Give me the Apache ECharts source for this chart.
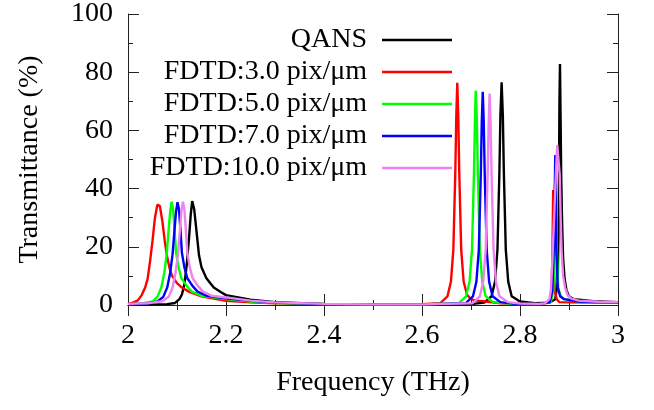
<!DOCTYPE html>
<html>
<head>
<meta charset="utf-8">
<script src="https://cdn.jsdelivr.net/npm/echarts@6/dist/echarts.min.js"></script>
<style>
  html, body { margin: 0; padding: 0; background: #fff; }
  #chart { width: 654px; height: 410px; }
</style>
</head>
<body>
<div id="chart"></div>
<script>
// Transmittance spectra: analytic QANS result vs FDTD at several resolutions
var seriesNames = ['QANS', 'FDTD:3.0 pix/μm', 'FDTD:5.0 pix/μm', 'FDTD:7.0 pix/μm', 'FDTD:10.0 pix/μm'];
var seriesColors = ['#000000', '#ff0000', '#00ff00', '#0000ff', '#ee82ee'];
var xTicks = [2, 2.2, 2.4, 2.6, 2.8, 3];
var yTicks = [0, 20, 40, 60, 80, 100];

// QANS
var qansFreq = [2.000, 2.080, 2.096, 2.105, 2.110, 2.115, 2.120, 2.125, 2.128, 2.131, 2.135, 2.140, 2.145, 2.150, 2.160, 2.175, 2.190, 2.200, 2.250, 2.300, 2.400, 2.500, 2.600, 2.700,
  2.727, 2.742, 2.749, 2.754, 2.758, 2.760, 2.7625, 2.765, 2.767, 2.771, 2.776, 2.783, 2.800, 2.830, 2.860,
  2.872, 2.877, 2.879, 2.8805, 2.8816, 2.883, 2.884, 2.886, 2.888, 2.891, 2.895, 2.900, 2.910, 2.950, 3.000];
var qansT = [0.1, 0.3, 0.7, 2.0, 3.6, 7.0, 14.0, 24.0, 31.0, 35.7, 33.0, 25.0, 17.0, 13.0, 9.2, 6.0, 4.4, 3.4, 1.8, 1.0, 0.4, 0.2, 0.1, 0.3,
  0.8, 3.0, 8.0, 19.0, 46.0, 65.0, 76.5, 65.0, 46.0, 19.0, 8.0, 3.0, 1.2, 0.6, 0.8,
  2.0, 8.0, 30.0, 70.0, 82.8, 62.0, 45.0, 28.0, 16.0, 9.0, 5.0, 3.0, 2.0, 1.3, 1.0];

// FDTD 3.0 pix/um
var fdtd3Freq = [2.000, 2.010, 2.020, 2.028, 2.035, 2.040, 2.045, 2.050, 2.055, 2.060, 2.062, 2.065, 2.070, 2.075, 2.080, 2.085, 2.090, 2.100, 2.110, 2.125, 2.150, 2.200, 2.250, 2.300, 2.400, 2.500, 2.600,
  2.637, 2.652, 2.659, 2.664, 2.668, 2.670, 2.672, 2.674, 2.676, 2.680, 2.685, 2.692, 2.700, 2.710, 2.730, 2.760, 2.800, 2.840,
  2.860, 2.864, 2.866, 2.8677, 2.869, 2.871, 2.875, 2.880, 2.900, 2.950, 3.000];
var fdtd3T = [0.3, 0.8, 1.6, 3.4, 6.0, 9.0, 15.0, 22.0, 30.0, 34.5, 35.0, 34.0, 29.0, 22.0, 16.5, 12.5, 10.0, 7.5, 6.0, 4.5, 3.0, 1.4, 0.9, 0.6, 0.3, 0.2, 0.3,
  0.6, 3.0, 8.0, 19.0, 46.0, 65.0, 76.4, 65.0, 46.0, 19.0, 8.0, 3.5, 2.0, 1.5, 1.2, 0.6, 0.3, 0.3,
  0.8, 4.0, 15.0, 39.5, 15.0, 5.0, 2.0, 1.0, 0.9, 0.8, 0.8];

// FDTD 5.0 pix/um
var fdtd5Freq = [2.000, 2.030, 2.050, 2.060, 2.068, 2.074, 2.079, 2.083, 2.086, 2.089, 2.092, 2.095, 2.098, 2.103, 2.109, 2.120, 2.130, 2.150, 2.200, 2.250, 2.300, 2.400, 2.500, 2.600,
  2.675, 2.690, 2.697, 2.702, 2.706, 2.708, 2.7096, 2.712, 2.714, 2.718, 2.723, 2.730, 2.745, 2.780, 2.840,
  2.863, 2.868, 2.871, 2.873, 2.875, 2.878, 2.883, 2.890, 2.920, 2.960, 3.000];
var fdtd5T = [0.2, 0.5, 1.2, 2.8, 6.0, 11.0, 17.5, 26.0, 32.0, 35.5, 33.0, 26.0, 18.0, 13.0, 9.2, 6.5, 4.6, 3.2, 2.0, 1.2, 0.7, 0.3, 0.2, 0.2,
  0.6, 3.0, 8.0, 19.0, 45.0, 63.0, 73.6, 63.0, 45.0, 19.0, 8.0, 3.0, 1.0, 0.4, 0.3,
  1.0, 5.0, 20.0, 47.0, 20.0, 6.0, 3.0, 2.0, 1.2, 1.0, 0.9];

// FDTD 7.0 pix/um
var fdtd7Freq = [2.000, 2.040, 2.060, 2.072, 2.080, 2.086, 2.091, 2.095, 2.098, 2.101, 2.104, 2.107, 2.110, 2.115, 2.121, 2.132, 2.142, 2.160, 2.200, 2.250, 2.300, 2.400, 2.500, 2.600,
  2.689, 2.704, 2.711, 2.716, 2.720, 2.722, 2.724, 2.726, 2.728, 2.732, 2.737, 2.744, 2.760, 2.790, 2.840,
  2.861, 2.866, 2.869, 2.872, 2.874, 2.877, 2.882, 2.890, 2.920, 2.960, 3.000];
var fdtd7T = [0.2, 0.5, 1.2, 2.8, 6.0, 11.0, 17.5, 26.0, 32.0, 35.3, 33.0, 26.0, 18.0, 13.0, 9.2, 6.5, 4.6, 3.2, 2.3, 1.4, 0.8, 0.3, 0.2, 0.2,
  0.6, 3.0, 8.0, 19.0, 45.0, 63.0, 73.3, 63.0, 45.0, 19.0, 8.0, 3.0, 1.0, 0.4, 0.3,
  1.0, 5.0, 20.0, 51.5, 20.0, 6.0, 3.0, 2.0, 1.2, 1.0, 0.9];

// FDTD 10.0 pix/um
var fdtd10Freq = [2.000, 2.040, 2.070, 2.083, 2.091, 2.097, 2.102, 2.106, 2.109, 2.112, 2.115, 2.118, 2.121, 2.126, 2.132, 2.143, 2.153, 2.170, 2.200, 2.250, 2.300, 2.400, 2.500, 2.600,
  2.703, 2.718, 2.725, 2.730, 2.734, 2.736, 2.738, 2.740, 2.742, 2.746, 2.751, 2.758, 2.775, 2.800, 2.840,
  2.850, 2.860, 2.863, 2.866, 2.870, 2.874, 2.876, 2.879, 2.881, 2.883, 2.885, 2.888, 2.892, 2.897, 2.905, 2.920, 2.960, 3.000];
var fdtd10T = [0.4, 0.6, 1.3, 2.8, 6.0, 11.0, 17.5, 26.0, 32.0, 35.5, 33.0, 26.0, 18.0, 13.0, 9.2, 6.5, 4.6, 3.2, 2.6, 1.5, 0.9, 0.4, 0.2, 0.2,
  0.6, 3.0, 8.0, 19.0, 45.0, 62.0, 72.7, 62.0, 45.0, 19.0, 8.0, 3.0, 1.0, 0.5, 0.4,
  0.5, 2.0, 5.0, 15.0, 32.0, 48.0, 55.0, 55.0, 45.0, 30.0, 18.0, 10.0, 6.0, 3.5, 2.2, 1.5, 1.1, 1.0];

var freqLists = [qansFreq, fdtd3Freq, fdtd5Freq, fdtd7Freq, fdtd10Freq];
var transLists = [qansT, fdtd3T, fdtd5T, fdtd7T, fdtd10T];

function pairUp(xs, ys) {
  var out = [];
  for (var i = 0; i < xs.length; i++) out.push([xs[i], ys[i]]);
  return out;
}

var FONT = '"Liberation Serif", "Times New Roman", serif';
var AXIS_COLOR = '#222';
var FS = 28;

var series = seriesNames.map(function (name, i) {
  return {
    name: name,
    type: 'line',
    xAxisIndex: 0,
    yAxisIndex: 0,
    data: pairUp(freqLists[i], transLists[i]),
    showSymbol: false,
    symbol: 'none',
    lineStyle: { color: seriesColors[i], width: 2.4 },
    itemStyle: { color: seriesColors[i] },
    emphasis: { disabled: true },
    z: 2 + i
  };
});

function tickAxisBase(extra) {
  var base = {
    axisLine: { show: true, lineStyle: { color: AXIS_COLOR, width: 1 } },
    axisTick: { show: true, inside: true, length: 11, lineStyle: { color: AXIS_COLOR } },
    minorTick: { show: true, splitNumber: 2, length: 5, lineStyle: { color: AXIS_COLOR } },
    splitLine: { show: false },
    minorSplitLine: { show: false }
  };
  for (var k in extra) base[k] = extra[k];
  return base;
}

var chart = echarts.init(document.getElementById('chart'), null, { renderer: 'canvas' });
chart.setOption({
  animation: false,
  backgroundColor: '#ffffff',
  textStyle: { fontFamily: FONT },
  grid: { left: 128, right: 36, top: 14, bottom: 105, containLabel: false },
  legend: {
    data: seriesNames,
    orient: 'vertical',
    align: 'right',
    right: 202,
    top: 26,
    padding: 0,
    itemGap: 4,
    itemWidth: 70,
    itemHeight: 2.5,
    icon: 'rect',
    selectedMode: false,
    textStyle: {
      fontFamily: FONT, fontSize: FS, color: '#000', lineHeight: 28,
      padding: [0, 10, 0, 0]
    }
  },
  xAxis: [
    tickAxisBase({
      type: 'value', position: 'bottom', min: xTicks[0], max: xTicks[xTicks.length - 1], interval: 0.2,
      name: 'Frequency (THz)', nameLocation: 'middle', nameGap: 64,
      nameTextStyle: { fontFamily: FONT, fontSize: FS, color: '#000' },
      axisLabel: { show: true, margin: 17, fontFamily: FONT, fontSize: FS, color: '#000' }
    }),
    tickAxisBase({
      type: 'value', position: 'top', min: xTicks[0], max: xTicks[xTicks.length - 1], interval: 0.2,
      axisLabel: { show: false }
    })
  ],
  yAxis: [
    tickAxisBase({
      type: 'value', position: 'left', min: yTicks[0], max: yTicks[yTicks.length - 1], interval: 20,
      name: 'Transmittance (%)', nameLocation: 'middle', nameGap: 84, nameRotate: 90,
      nameTextStyle: { fontFamily: FONT, fontSize: FS, color: '#000' },
      axisLabel: { show: true, margin: 15, fontFamily: FONT, fontSize: FS, color: '#000' }
    }),
    tickAxisBase({
      type: 'value', position: 'right', min: yTicks[0], max: yTicks[yTicks.length - 1], interval: 20,
      axisLabel: { show: false }
    })
  ],
  series: series
});
</script>
</body>
</html>
